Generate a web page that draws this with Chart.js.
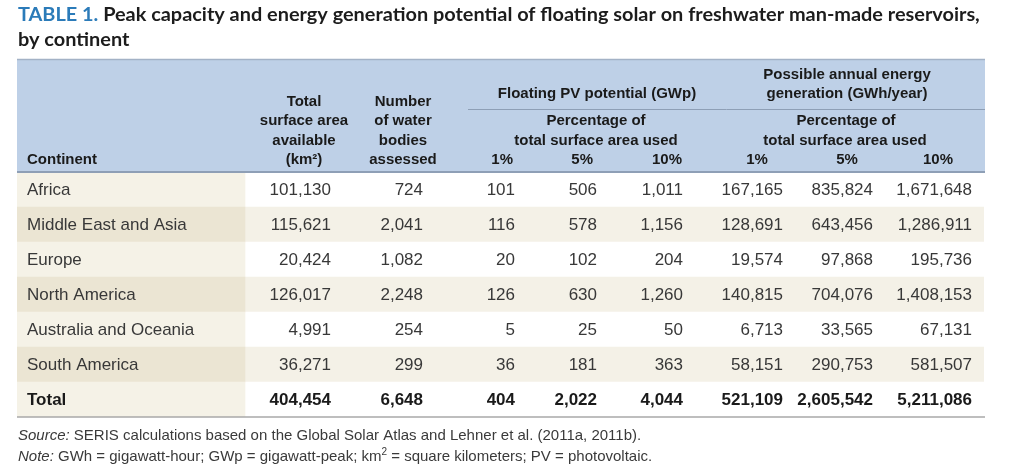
<!DOCTYPE html>
<html>
<head>
<meta charset="utf-8">
<script src="https://cdn.jsdelivr.net/npm/chart.js@4"></script>
<style>
  body { margin: 0; background: #fff; }
  #wrap { width: 1024px; height: 468px; }
</style>
</head>
<body>
<div id="wrap"><canvas id="table1" width="1024" height="468"></canvas></div>
<script>
const continents = ['Africa', 'Middle East and Asia', 'Europe', 'North America', 'Australia and Oceania', 'South America'];
const surfaceArea = [101130, 115621, 20424, 126017, 4991, 36271];
const waterBodies = [724, 2041, 1082, 2248, 254, 299];
const pv1 = [101, 116, 20, 126, 5, 36];
const pv5 = [506, 578, 102, 630, 25, 181];
const pv10 = [1011, 1156, 204, 1260, 50, 363];
const gen1 = [167165, 128691, 19574, 140815, 6713, 58151];
const gen5 = [835824, 643456, 97868, 704076, 33565, 290753];
const gen10 = [1671648, 1286911, 195736, 1408153, 67131, 581507];
const totals = [404454, 6648, 404, 2022, 4044, 521109, 2605542, 5211086];

const rowLabels = continents.concat(['Total']);
const columns = [surfaceArea, waterBodies, pv1, pv5, pv10, gen1, gen5, gen10];

// table geometry, in table units (1 unit = 1px from table left edge)
const tableWidth = 967;
const firstColEnd = 228;
const colRight = [314, 406, 498, 580, 666, 766, 856, 955];

const sans = '"Liberation Sans", Arial, sans-serif';
const fmt = v => v.toLocaleString('en-US');

const tableText = {
    id: 'tableText',
    beforeDraw(chart) {
        const ctx = chart.ctx;
        const area = chart.chartArea;
        ctx.save();
        // header band
        ctx.fillStyle = '#bed0e7';
        ctx.fillRect(area.left, 60, area.right - area.left + 1, area.top - 60);
        ctx.restore();
    },
    afterDraw(chart) {
        const ctx = chart.ctx;
        const area = chart.chartArea;
        const x = chart.scales.x;
        const y = chart.scales.y;
        const px = u => x.getPixelForValue(u);
        ctx.save();

        // title
        const t1a = 'TABLE 1. ';
        const t1b = 'Peak capacity and energy generation potential of floating solar on freshwater man-made reservoirs,';
        ctx.font = 'bold 18px Lato';
        const size = 18 * 962 / ctx.measureText(t1a + t1b).width;
        ctx.font = 'bold ' + size.toFixed(2) + 'px Lato';
        ctx.textBaseline = 'alphabetic';
        ctx.textAlign = 'left';
        ctx.fillStyle = '#2b7bb9';
        ctx.fillText(t1a, 18, 21);
        ctx.fillStyle = '#1c1c1c';
        ctx.fillText(t1b, 18 + ctx.measureText(t1a).width, 21);
        ctx.fillText('by continent', 18, 46);

        // rules
        ctx.strokeStyle = '#a3b2c6';
        ctx.lineWidth = 1.5;
        ctx.beginPath(); ctx.moveTo(area.left, 59.5); ctx.lineTo(area.right + 1, 59.5); ctx.stroke();
        ctx.strokeStyle = '#8e9fb6';
        ctx.lineWidth = 1;
        ctx.beginPath(); ctx.moveTo(468, 109.5); ctx.lineTo(area.right + 1, 109.5); ctx.stroke();
        ctx.lineWidth = 2;
        ctx.beginPath(); ctx.moveTo(area.left, area.top); ctx.lineTo(area.right + 1, area.top); ctx.stroke();
        ctx.strokeStyle = '#a8a8a8';
        ctx.lineWidth = 1.5;
        ctx.beginPath(); ctx.moveTo(area.left, area.bottom); ctx.lineTo(area.right + 1, area.bottom); ctx.stroke();

        // header text
        ctx.fillStyle = '#1a1a1a';
        ctx.font = 'bold 15px ' + sans;
        ctx.textBaseline = 'middle';
        const put = (s, xx, yy, align) => { ctx.textAlign = align; ctx.fillText(s, xx, yy); };
        put('Continent', 27, 160, 'left');
        ['Total', 'surface area', 'available', '(km\u00b2)'].forEach((s, i) => put(s, 304, [102, 121, 141, 160][i], 'center'));
        ['Number', 'of water', 'bodies', 'assessed'].forEach((s, i) => put(s, 403, [102, 121, 141, 160][i], 'center'));
        put('Floating PV potential (GWp)', 597, 94, 'center');
        put('Percentage of', 596, 121, 'center');
        put('total surface area used', 596, 141, 'center');
        put('1%', 513, 160, 'right');
        put('5%', 593, 160, 'right');
        put('10%', 682, 160, 'right');
        put('Possible annual energy', 847, 75, 'center');
        put('generation (GWh/year)', 847, 94, 'center');
        put('Percentage of', 846, 121, 'center');
        put('total surface area used', 845, 141, 'center');
        put('1%', 757, 160, 'center');
        put('5%', 847, 160, 'center');
        put('10%', 938, 160, 'center');

        // body cells
        rowLabels.forEach((label, i) => {
            const yy = y.getPixelForValue(i);
            const isTotal = i === rowLabels.length - 1;
            ctx.font = (isTotal ? 'bold ' : '') + '17px ' + sans;
            ctx.fillStyle = isTotal ? '#1a1a1a' : '#383838';
            put(label, 27, yy + 1, 'left');
            columns.forEach((col, c) => {
                const v = isTotal ? totals[c] : col[i];
                put(fmt(v), px(colRight[c]), yy + 1, 'right');
            });
        });

        // footnotes
        ctx.fillStyle = '#3a3a3a';
        ctx.textAlign = 'left';
        const line = (lead, parts, yy) => {
            ctx.font = 'italic 15px ' + sans;
            ctx.fillText(lead, 18, yy);
            let cx = 18 + ctx.measureText(lead).width;
            parts.forEach(p => {
                ctx.font = (p.sup ? '10px ' : '15px ') + sans;
                ctx.fillText(p.t, cx, p.sup ? yy - 5 : yy);
                cx += ctx.measureText(p.t).width;
            });
        };
        line('Source:', [{ t: ' SERIS calculations based on the Global Solar Atlas and Lehner et al. (2011a, 2011b).' }], 436);
        line('Note:', [
            { t: ' GWh = gigawatt-hour; GWp = gigawatt-peak; km' },
            { t: '2', sup: true },
            { t: ' = square kilometers; PV = photovoltaic.' }
        ], 457);

        ctx.restore();
    }
};

const odd = i => i % 2 === 1;

new Chart(document.getElementById('table1').getContext('2d'), {
    type: 'bar',
    data: {
        labels: rowLabels,
        datasets: [{
            label: 'continent column',
            data: rowLabels.map(() => [0, firstColEnd]),
            backgroundColor: rowLabels.map((l, i) => odd(i) ? '#ebe5d3' : '#f5f2e7'),
            barPercentage: 1,
            categoryPercentage: 1,
            grouped: false,
            borderWidth: 0
        }, {
            label: 'value columns',
            data: rowLabels.map(() => [firstColEnd, tableWidth]),
            backgroundColor: rowLabels.map((l, i) => odd(i) ? '#f4f1e7' : '#ffffff'),
            barPercentage: 1,
            categoryPercentage: 1,
            grouped: false,
            borderWidth: 0
        }]
    },
    options: {
        indexAxis: 'y',
        responsive: false,
        animation: false,
        events: [],
        layout: { padding: { top: 172, bottom: 51, left: 17, right: 40 } },
        scales: {
            x: { type: 'linear', min: 0, max: tableWidth, display: false },
            y: { display: false, offset: true }
        },
        plugins: {
            legend: { display: false },
            tooltip: { enabled: false }
        }
    },
    plugins: [tableText]
});
</script>
</body>
</html>
